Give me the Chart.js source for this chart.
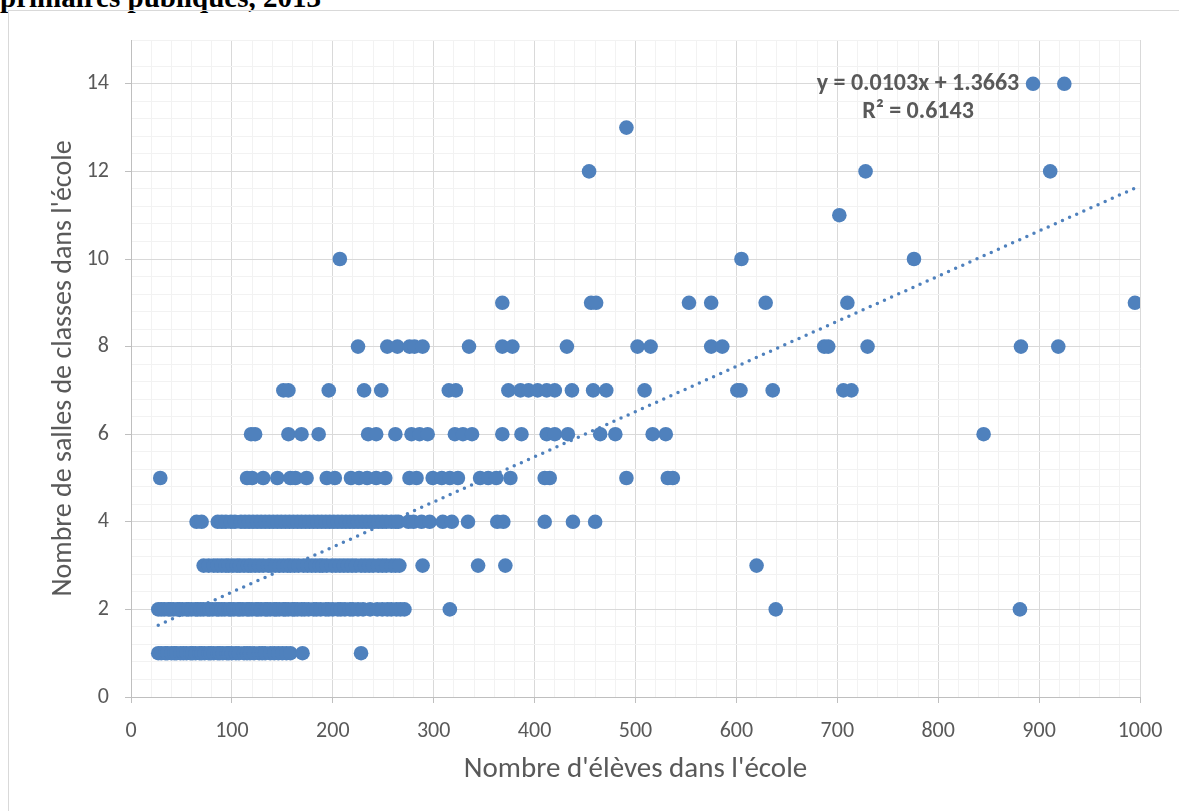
<!DOCTYPE html>
<html lang="fr">
<head>
<meta charset="utf-8">
<script src="https://cdn.jsdelivr.net/npm/chart.js@4"></script>
<style>
  body { margin: 0; background: #fff; overflow: hidden; }
  #titre {
    position: absolute; left: 0; top: -17px; white-space: nowrap;
    font: bold 29px/1 "Liberation Serif", "Times New Roman", serif; color: #000;
  }
  #cadre {
    position: absolute; left: 8px; top: 10px; width: 1300px; height: 900px;
    border: 1px solid #d9d9d9;
  }
  #graphe { position: absolute; left: 0; top: 0; }
</style>
</head>
<body>
<div id="titre">primaires publiques, 2013</div>
<div id="cadre"></div>
<canvas id="graphe" width="1179" height="811"></canvas>
<script>
// nombre d'eleves des ecoles, regroupes par nombre de salles de classes
const eleves1Salle = [27, 30, 34, 36, 40, 43, 45, 49, 52, 55, 59, 61, 64, 68, 70, 73, 77, 79, 82, 86, 88, 91, 95, 97, 100,
  104, 107, 112, 115, 118, 122, 127, 130, 133, 138, 142, 146, 150, 154, 158, 170, 228];
const eleves2Salles = [27, 30, 33, 37, 39, 42, 46, 48, 51, 55, 57, 60, 64, 66, 69, 72, 76, 78, 81, 85, 87, 90, 93, 97, 99,
  102, 106, 108, 111, 115, 117, 120, 124, 126, 129, 133, 135, 138, 142, 144, 147, 151, 153, 156, 160, 162, 165, 169,
  172, 176, 181, 184, 188, 193, 196, 200, 205, 208, 212, 217, 220, 225, 230, 237, 244, 249, 254, 258, 263, 267, 271,
  316, 639, 881];
const eleves3Salles = [72, 77, 82, 86, 90, 94, 97, 101, 105, 108, 112, 116, 119, 123, 127, 131, 136, 139, 143, 147, 151,
  155, 158, 162, 166, 171, 175, 179, 183, 187, 190, 194, 199, 203, 207, 211, 215, 219, 223, 228, 232, 236, 240, 245,
  249, 253, 258, 262, 266, 289, 344, 371, 620];
const eleves4Salles = [65, 70, 86, 90, 94, 99, 103, 109, 113, 117, 121, 125, 129, 133, 137, 141, 145, 149, 153, 157, 161,
  165, 169, 173, 177, 181, 185, 189, 193, 197, 201, 205, 209, 213, 217, 221, 225, 229, 233, 237, 241, 245, 249, 253,
  258, 262, 265, 275, 280, 288, 296, 309, 318, 334, 363, 369, 410, 438, 460];
const eleves5Salles = [29, 115, 120, 131, 145, 158, 163, 174, 194, 202, 218, 226, 234, 243, 252, 276, 283, 299, 308, 316,
  324, 346, 354, 362, 376, 410, 415, 491, 532, 537];
const eleves6Salles = [119, 123, 156, 169, 186, 235, 243, 262, 278, 286, 294, 321, 329, 338, 368, 387, 412, 420, 433, 465,
  480, 517, 530, 845];
const eleves7Salles = [151, 156, 196, 231, 248, 315, 322, 374, 386, 394, 403, 412, 420, 437, 458, 471, 509, 601, 604, 636,
  706, 714];
const eleves8Salles = [225, 254, 264, 276, 281, 289, 335, 368, 378, 432, 502, 515, 575, 586, 687, 691, 730, 882, 919];
const eleves9Salles = [368, 456, 461, 553, 575, 629, 710, 995];
const eleves10Salles = [207, 605, 776];
const eleves11Salles = [702];
const eleves12Salles = [454, 728, 911];
const eleves13Salles = [491];
const eleves14Salles = [894, 925];

const salles = [1, 2, 3, 4, 5, 6, 7, 8, 9, 10, 11, 12, 13, 14];
const elevesParSalles = [eleves1Salle, eleves2Salles, eleves3Salles, eleves4Salles, eleves5Salles, eleves6Salles,
  eleves7Salles, eleves8Salles, eleves9Salles, eleves10Salles, eleves11Salles, eleves12Salles, eleves13Salles,
  eleves14Salles];

// courbe de tendance lineaire (bouts)
const tendanceX = [27, 1000];
const tendanceY = [1.64, 11.67];
const equationTexte = "y = 0.0103x + 1.3663";
const r2Texte = "R² = 0.6143";

const yEtiquettes = [0, 2, 4, 6, 8, 10, 12, 14];
const xEtiquettes = [0, 100, 200, 300, 400, 500, 600, 700, 800, 900, 1000];

const bleu = "#4F81BD";
const gris = "#595959";
const police = "Carlito, Lato, sans-serif";

let points = [];
for (let i = 0; i < salles.length; i++) {
  for (let j = 0; j < elevesParSalles[i].length; j++) {
    points.push({ x: elevesParSalles[i][j], y: salles[i] });
  }
}
let tendance = tendanceX.map((v, i) => ({ x: v, y: tendanceY[i] }));

const equation = {
  id: "equation",
  afterDatasetsDraw(chart) {
    const { ctx, scales } = chart;
    const cx = scales.x.getPixelForValue(780);
    ctx.save();
    ctx.font = "bold 24px " + police;
    ctx.fillStyle = gris;
    ctx.textAlign = "center";
    ctx.textBaseline = "middle";
    ctx.fillText(equationTexte, cx, scales.y.getPixelForValue(14));
    ctx.fillText(r2Texte, cx, scales.y.getPixelForValue(13.36));
    ctx.restore();
  },
};

new Chart(document.getElementById("graphe"), {
  type: "scatter",
  data: {
    datasets: [
      {
        data: points,
        backgroundColor: bleu,
        borderColor: bleu,
        borderWidth: 0,
        pointRadius: 7.3,
      },
      {
        data: tendance,
        showLine: true,
        pointRadius: 0,
        borderColor: bleu,
        borderWidth: 3.5,
        borderDash: [0, 7.8],
        borderCapStyle: "round",
      },
    ],
  },
  options: {
    responsive: false,
    animation: false,
    layout: { padding: { top: 40, right: 39, left: 0, bottom: 0 } },
    plugins: { legend: { display: false }, tooltip: { enabled: false } },
    scales: {
      x: {
        type: "linear",
        min: 0,
        max: 1000,
        afterFit: (s) => { s.height = 114; },
        ticks: {
          stepSize: 20,
          autoSkip: false,
          maxRotation: 0,
          padding: 15,
          color: gris,
          font: { family: police, size: 22 },
          callback: (v) => (xEtiquettes.includes(v) ? v : ""),
        },
        grid: {
          color: (c) => (xEtiquettes.includes(c.tick.value) ? "#d9d9d9" : "#f2f2f2"),
          tickColor: (c) => (xEtiquettes.includes(c.tick.value) ? "#bfbfbf" : "rgba(0,0,0,0)"),
          tickLength: 6,
        },
        border: { color: "#bfbfbf" },
        title: {
          display: true,
          text: "Nombre d'élèves dans l'école",
          color: gris,
          font: { family: police, size: 29 },
          padding: { bottom: 24 },
        },
      },
      y: {
        min: 0,
        max: 15,
        afterFit: (s) => { s.width = 131; },
        ticks: {
          stepSize: 0.4,
          autoSkip: false,
          padding: 16,
          color: gris,
          font: { family: police, size: 22 },
          callback: (v) => (yEtiquettes.includes(v) ? v : ""),
        },
        grid: {
          color: (c) => (yEtiquettes.includes(c.tick.value) ? "#d9d9d9" : "#f2f2f2"),
          tickColor: (c) => (yEtiquettes.includes(c.tick.value) ? "#bfbfbf" : "rgba(0,0,0,0)"),
          tickLength: 6,
        },
        border: { color: "#bfbfbf" },
        title: {
          display: true,
          text: "Nombre de salles de classes dans l'école",
          color: gris,
          font: { family: police, size: 28 },
          padding: { top: 47 },
        },
      },
    },
  },
  plugins: [equation],
});
</script>
</body>
</html>
